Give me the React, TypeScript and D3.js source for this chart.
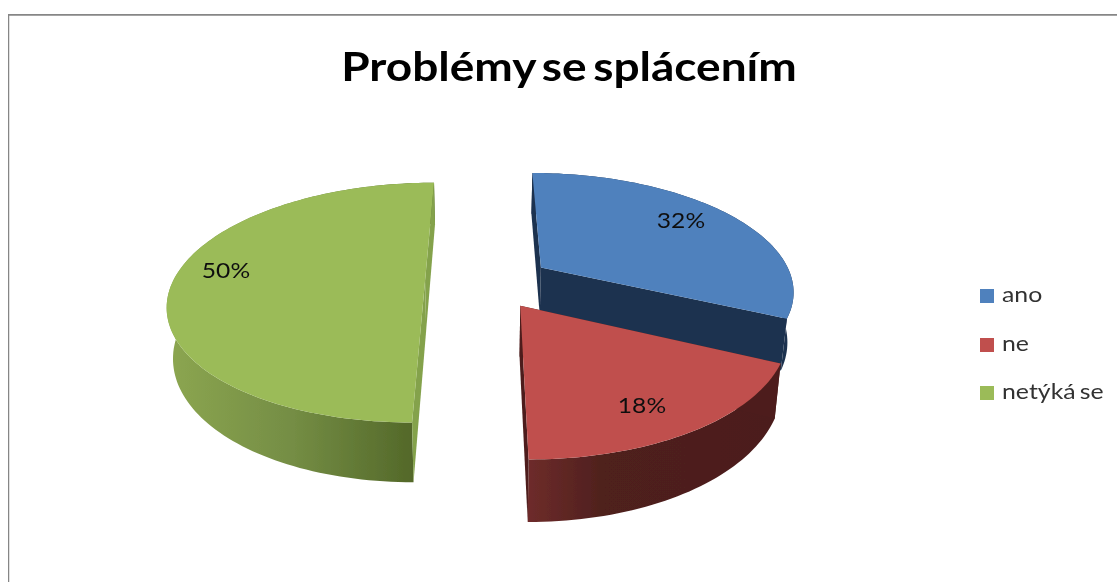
import React from "react";
import * as d3 from "d3";

const categories = ["ano", "ne", "netýká se"];
const shares = [32, 18, 50];
const topColors = ["#4f81bd", "#c0504d", "#9bbb59"];
const radialWallColors = ["#1f334f", "#4d1f1d", "#84a24c"];
const outerStops = [
  [["0", "#1f334f"], ["1", "#1f334f"]],
  [["0", "#6e2c2a"], ["0.3", "#4f201e"], ["1", "#4c1e1c"]],
  [["0", "#8ba550"], ["0.5", "#748d44"], ["1", "#536829"]],
];
const title = "Problémy se splácením";

const W = 1117, H = 582;
const x0 = 484, y0 = 281, A = 252, K = 116, P = 0.18, DEPTH = 49, EXPLODE = 0.24, BOTTOM_X = 0.98;
const nudgeU = [0.028, 0.01, 0.006];
const nudgeV = [0.01, 0.002, 0];
const labelPos = [[681, 220], [642, 405], [226, 270]];
const legendY = [296, 345, 393];
const FONT = "Lato, 'Open Sans', sans-serif";

function project(U: number, V: number, bottom: boolean): [number, number] {
  const w = 1 - P * V;
  return [x0 + (A * U * (bottom ? BOTTOM_X : 1)) / w, y0 + (K * V + (bottom ? DEPTH : 0)) / w];
}

export default function App() {
  const arcs = d3.pie<number>().sort(null)(shares);
  const line = d3.line();
  const slices = arcs.map((a, i) => {
    const mid = (a.startAngle + a.endAngle) / 2;
    const ox = EXPLODE * Math.sin(mid) + nudgeU[i], oz = -EXPLODE * Math.cos(mid) + nudgeV[i];
    const n = Math.ceil((a.endAngle - a.startAngle) * 40);
    const angles = d3.range(n + 1).map((k) => a.startAngle + ((a.endAngle - a.startAngle) * k) / n);
    const rim = (b: boolean) => angles.map((t) => project(ox + Math.sin(t), oz - Math.cos(t), b));
    const apexT = project(ox, oz, false), apexB = project(ox, oz, true);
    const topRim = rim(false), botRim = rim(true);
    return {
      i,
      top: line([apexT, ...topRim])! + "Z",
      outer: line([...topRim, ...botRim.slice().reverse()])! + "Z",
      wallStart: line([apexT, topRim[0], botRim[0], apexB])! + "Z",
      wallEnd: line([apexT, topRim[n], botRim[n], apexB])! + "Z",
      x1: d3.min(botRim, (p) => p[0])!,
      x2: d3.max(botRim, (p) => p[0])!,
    };
  });
  const order = [0, 2, 1];
  return (
    <svg width={W} height={H} style={{ position: "absolute", left: 0, top: 0 }} fontFamily={FONT}>
      <rect width={W} height={H} fill="#fff" />
      <defs>
        {slices.map((s) => (
          <linearGradient key={s.i} id={`g${s.i}`} gradientUnits="userSpaceOnUse" x1={s.x1} x2={s.i === 2 ? 414 : s.x2} y1={0} y2={0}>
            {outerStops[s.i].map(([o, c]) => <stop key={o} offset={o} stopColor={c} />)}
          </linearGradient>
        ))}
        <filter id="soft" x="0" y="0" width="100%" height="100%">
          <feGaussianBlur stdDeviation={0.45} />
        </filter>
      </defs>
      <g filter="url(#soft)">
        <path d={`M8,${H + 4}V14.5H${W + 4}`} fill="none" stroke="#868686" strokeWidth={2.5} />
        <text transform="translate(569,81) scale(1.15,1)" textAnchor="middle" fontSize={40} fontWeight={700} wordSpacing={-4} fill="#000">{title}</text>
        {order.map((i) => {
          const s = slices[i];
          return (
            <g key={i}>
              <path d={s.outer} fill={`url(#g${i})`} />
              <path d={s.wallStart} fill={radialWallColors[i]} />
              <path d={s.wallEnd} fill={radialWallColors[i]} />
              <path d={s.top} fill={topColors[i]} />
            </g>
          );
        })}
        {shares.map((v, i) => (
          <text key={i} transform={`translate(${labelPos[i][0]},${labelPos[i][1]}) scale(1.12,1)`} textAnchor="middle" dominantBaseline="central" fontSize={22} fill="#111">{v}%</text>
        ))}
        {categories.map((c, i) => (
          <g key={c}>
            <rect x={980} y={legendY[i] - 7} width={14} height={14} fill={topColors[i]} />
            <text transform={`translate(1002,${legendY[i] - 2}) scale(1.13,1)`} dominantBaseline="central" fontSize={22} wordSpacing={-2} fill="#333">{c}</text>
          </g>
        ))}
      </g>
    </svg>
  );
}
